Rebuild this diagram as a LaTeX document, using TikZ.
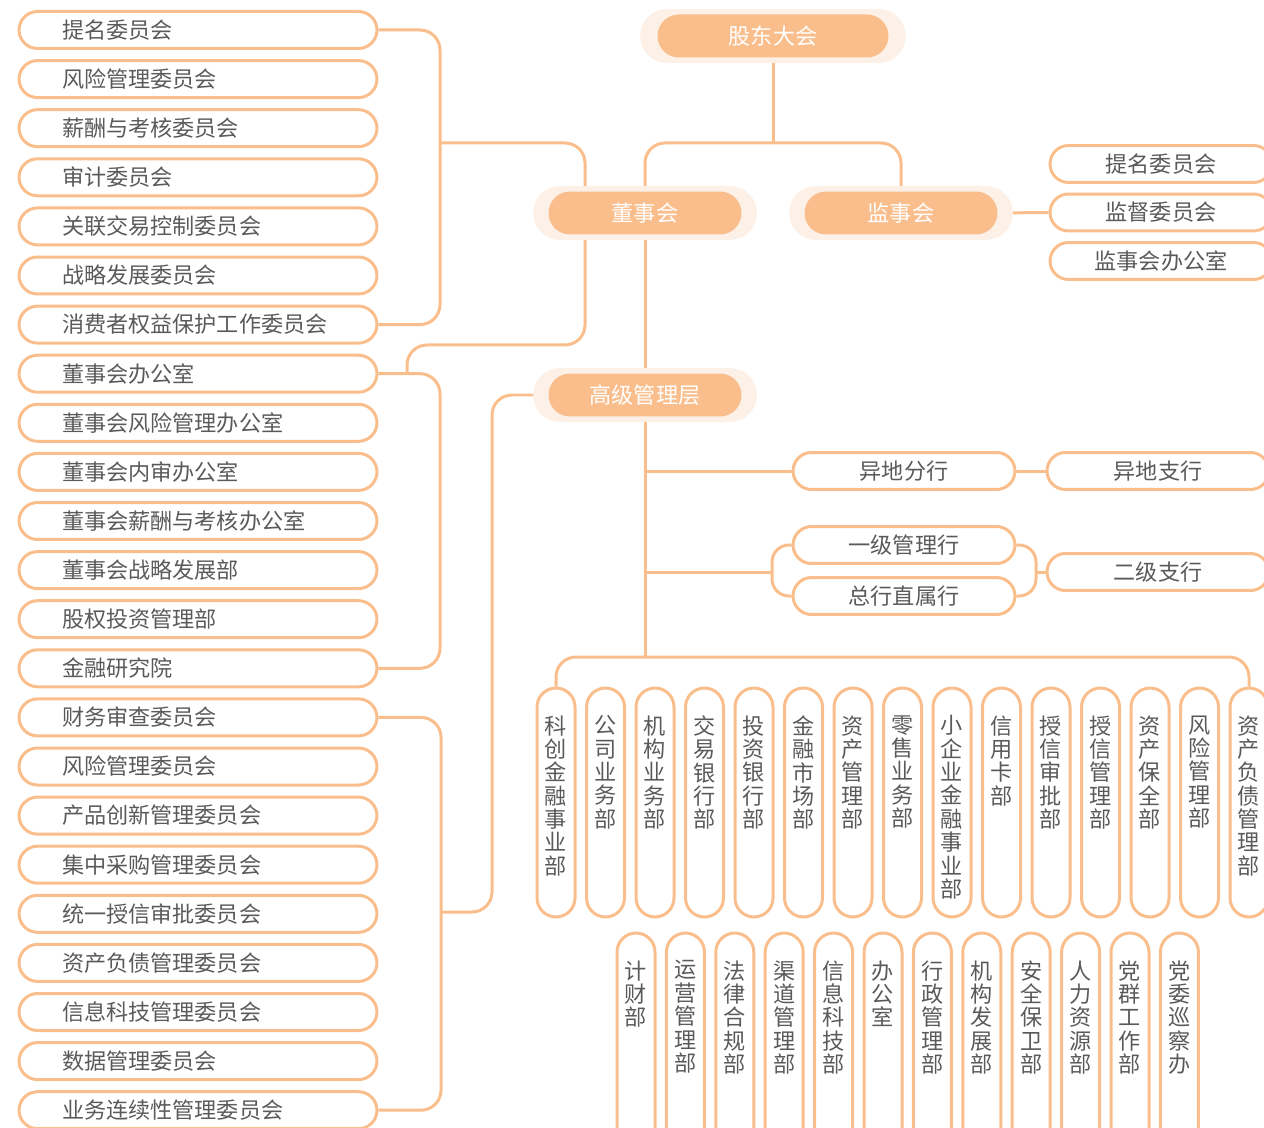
\documentclass[tikz,border=0pt]{standalone}
\usepackage{fontspec}
\setmainfont{Noto Sans CJK SC}
\usetikzlibrary{backgrounds,calc}
\definecolor{orgline}{RGB}{250,190,140}
\definecolor{orghalo}{RGB}{253,240,230}
\definecolor{orgtext}{RGB}{90,90,90}
\newcommand{\chfont}{\fontsize{12.6pt}{13.3pt}\selectfont}
\newcommand{\colstack}[1]{\parbox[c][4.58cm][t]{0.76cm}{\centering\vspace*{0.55cm}#1}}
\newcommand{\pillhalo}[2][15]{%
  \fill[orghalo,rounded corners=0.53cm]($(#2.south west)+(-#1,5)$)rectangle($(#2.north east)+(#1,-5)$);
}
\tikzset{
  link/.style={draw=orgline,line width=0.06cm,rounded corners=0.4cm},
  lbox/.style={draw=orgline,line width=0.06cm,rounded corners=0.37cm,minimum height=0.74cm,
    text width=5.44cm,inner xsep=0.86cm,inner ysep=0pt,align=left,text=orgtext,font=\chfont},
  mbox/.style={draw=orgline,line width=0.06cm,rounded corners=0.37cm,minimum height=0.74cm,
    minimum width=4.44cm,inner sep=0pt,align=center,text=orgtext,font=\chfont},
  colbox/.style={draw=orgline,line width=0.06cm,rounded corners=0.38cm,inner sep=0pt,
    text=orgtext,font=\chfont},
  pill/.style={fill=orgline,rounded corners=0.43cm,minimum width=3.86cm,minimum height=0.86cm,
    inner sep=0pt,text=white,font=\chfont}
}
\begin{document}
\begin{tikzpicture}[x=0.02cm,y=-0.02cm]
  \useasboundingbox(0,0)rectangle(1264,1128);
  \foreach \i/\t in {1/提名委员会,2/风险管理委员会,3/薪酬与考核委员会,4/审计委员会,
    5/关联交易控制委员会,6/战略发展委员会,7/消费者权益保护工作委员会,8/董事会办公室,
    9/董事会风险管理办公室,10/董事会内审办公室,11/董事会薪酬与考核办公室,12/董事会战略发展部,
    13/股权投资管理部,14/金融研究院,15/财务审查委员会,16/风险管理委员会,17/产品创新管理委员会,
    18/集中采购管理委员会,19/统一授信审批委员会,20/资产负债管理委员会,21/信息科技管理委员会,
    22/数据管理委员会,23/业务连续性管理委员会}{%
    \node[lbox](L\i)at(198,{30+49.1*(\i-1)}){\t};
  }
  \node[pill,minimum width=4.62cm](gd)at(773,36){股东大会};
  \node[pill](dsh)at(645,213){董事会};
  \node[pill](jsh)at(901,213){监事会};
  \node[pill](gj)at(645,395){高级管理层};
  \foreach \i/\t in {1/提名委员会,2/监督委员会,3/监事会办公室}{%
    \node[mbox](S\i)at(1161,{164+48.5*(\i-1)}){\t};
  }
  \node[mbox](yf)at(904,471){异地分行};
  \node[mbox](yz)at(1158,471){异地支行};
  \node[mbox](gl)at(904,545){一级管理行};
  \node[mbox](zs)at(904,596){总行直属行};
  \node[mbox](ej)at(1158,572){二级支行};
  \foreach \i/\t in {1/{科\\创\\金\\融\\事\\业\\部},2/{公\\司\\业\\务\\部},3/{机\\构\\业\\务\\部},
    4/{交\\易\\银\\行\\部},5/{投\\资\\银\\行\\部},6/{金\\融\\市\\场\\部},7/{资\\产\\管\\理\\部},
    8/{零\\售\\业\\务\\部},9/{小\\企\\业\\金\\融\\事\\业\\部},10/{信\\用\\卡\\部},
    11/{授\\信\\审\\批\\部},12/{授\\信\\管\\理\\部},13/{资\\产\\保\\全\\部},
    14/{风\\险\\管\\理\\部},15/{资\\产\\负\\债\\管\\理\\部}}{%
    \node[colbox](A\i)at({556+49.5*(\i-1)},802.5){\colstack{\t}};
  }
  \foreach \i/\t in {1/{计\\财\\部},2/{运\\营\\管\\理\\部},3/{法\\律\\合\\规\\部},
    4/{渠\\道\\管\\理\\部},5/{信\\息\\科\\技\\部},6/{办\\公\\室},7/{行\\政\\管\\理\\部},
    8/{机\\构\\发\\展\\部},9/{安\\全\\保\\卫\\部},10/{人\\力\\资\\源\\部},
    11/{党\\群\\工\\作\\部},12/{党\\委\\巡\\察\\办}}{%
    \node[colbox](B\i)at({636+49.4*(\i-1)},1047.5){\colstack{\t}};
  }
  \begin{scope}[on background layer]
    \coordinate(t0)at(773,143);
    \coordinate(t1)at(645,657);
    \coordinate(j1)at(440,143);
    \coordinate(j2)at(440,520);
    \coordinate(j3)at(441,912);
    \coordinate(k1)at(585,345);
    \coordinate(k2)at(407,373);
    \coordinate(k3)at(492,395);
    \coordinate(j4)at(772,572);
    \coordinate(j5)at(1036,572);
    \draw[link](gd.south)--(t0);
    \draw[link](dsh.north)|-(t0)-|(jsh.north);
    \draw[link](jsh.east)--(S2.west);
    \draw[link](L1.east)-|(j1)|-(L7.east);
    \draw[link](j1)-|(k1)-|(k2);
    \draw[link](L8.east)-|(j2)|-(L14.east);
    \draw[link](L15.east)-|(j3)|-(L23.east);
    \draw[link](j3)-|(k3)--(gj.west);
    \draw[link](dsh.south)--(t1);
    \draw[link](A1.north)|-(t1)-|(A15.north);
    \draw[link](yf.west-|dsh.south)--(yf.west);
    \draw[link](yf.east)--(yz.west);
    \draw[link,rounded corners=0.34cm](gl.west)-|(zs.west-|j4)--(zs.west);
    \draw[link](j4)--(j4-|dsh.south);
    \draw[link,rounded corners=0.34cm](gl.east)-|(zs.east-|j5)--(zs.east);
    \draw[link](j5)--(ej.west);
    \pillhalo[17]{gd}
    \pillhalo{dsh}
    \pillhalo{jsh}
    \pillhalo{gj}
  \end{scope}
\end{tikzpicture}
\end{document}
